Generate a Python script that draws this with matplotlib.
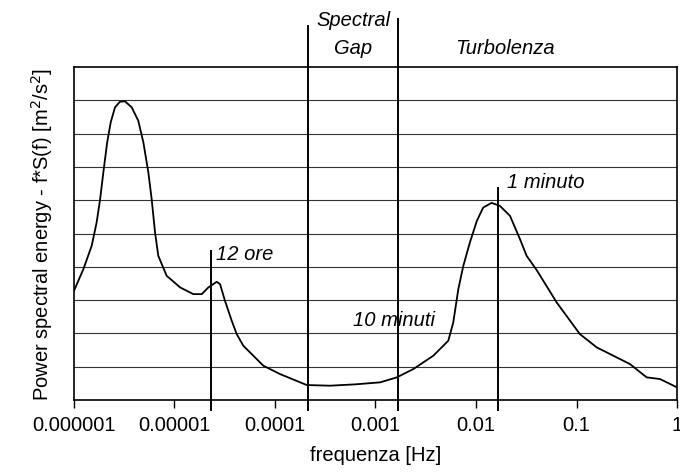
import matplotlib.pyplot as plt

plt.rcParams['font.family'] = ['Liberation Sans', 'DejaVu Sans']

# Dati (frequenza in Hz, energia in unità di griglia)
frequenza = [1.00e-6, 1.24e-6, 1.50e-6, 1.68e-6, 1.82e-6, 1.96e-6, 2.14e-6, 2.32e-6,
             2.56e-6, 2.87e-6, 3.22e-6, 3.75e-6, 4.36e-6, 4.90e-6, 5.49e-6, 5.93e-6,
             6.40e-6, 6.90e-6, 8.36e-6, 1.14e-5, 1.54e-5, 1.87e-5, 2.17e-5, 2.63e-5,
             2.84e-5, 3.18e-5, 3.71e-5, 4.16e-5, 4.84e-5, 7.66e-5, 1.12e-4, 2.07e-4,
             3.52e-4, 6.25e-4, 1.11e-3, 1.63e-3, 2.38e-3, 3.76e-3, 5.30e-3, 5.94e-3,
             6.67e-3, 7.48e-3, 8.71e-3, 1.02e-2, 1.18e-2, 1.43e-2, 1.73e-2, 2.18e-2,
             2.74e-2, 3.19e-2, 4.02e-2, 6.35e-2, 0.108, 0.159, 0.340, 0.499,
             0.677, 1.0]
energia = [3.28, 3.93, 4.63, 5.33, 6.03, 6.84, 7.74, 8.34,
           8.79, 8.96, 8.97, 8.79, 8.39, 7.74, 6.84, 6.03,
           5.04, 4.33, 3.73, 3.38, 3.18, 3.18, 3.38, 3.55,
           3.48, 2.98, 2.38, 1.98, 1.63, 1.03, 0.78, 0.45,
           0.43, 0.47, 0.53, 0.68, 0.93, 1.33, 1.78, 2.33,
           3.33, 4.03, 4.74, 5.38, 5.78, 5.92, 5.83, 5.53,
           4.83, 4.33, 3.90, 2.93, 1.98, 1.58, 1.08, 0.68,
           0.63, 0.38]

tick_pos = [1e-6, 1e-5, 1e-4, 1e-3, 1e-2, 1e-1, 1]
tick_lab = ['0.000001', '0.00001', '0.0001', '0.001', '0.01', '0.1', '1']

fig = plt.figure(figsize=(6.8, 4.77), dpi=100)
ax = fig.add_axes([0.1088, 0.1593, 0.8868, 0.6981])

ax.plot(frequenza, energia, color='black', lw=1.3, zorder=3)
ax.set_xscale('log')
ax.set_xlim(1e-6, 1)
ax.set_ylim(0, 10)

for y in range(1, 10):
    ax.axhline(y, color='#333333', lw=0.8, zorder=1)

# linee verticali (alcune escono dal riquadro)
ax.plot([2.31e-5, 2.31e-5], [-0.3, 4.47], color='black', lw=1.4, clip_on=False)
ax.plot([2.13e-4, 2.13e-4], [-0.3, 11.23], color='black', lw=1.4, clip_on=False)
ax.plot([1.67e-3, 1.67e-3], [-0.3, 11.44], color='black', lw=1.4, clip_on=False)
ax.plot([1.667e-2, 1.667e-2], [-0.3, 6.37], color='black', lw=1.4, clip_on=False)

fs = 14.5
ax.text(6.0e-4, 11.43, 'Spectral', style='italic', fontsize=fs, ha='center', va='center', clip_on=False)
ax.text(6.0e-4, 10.6, 'Gap', style='italic', fontsize=fs, ha='center', va='center', clip_on=False)
ax.text(1.95e-2, 10.6, 'Turbolenza', style='italic', fontsize=fs, ha='center', va='center', clip_on=False)
ax.text(2.03e-2, 6.55, '1 minuto', style='italic', fontsize=fs, ha='left', va='center')
ax.text(2.6e-5, 4.4, '12 ore', style='italic', fontsize=fs, ha='left', va='center')
ax.text(5.97e-4, 2.43, '10 minuti', style='italic', fontsize=fs, ha='left', va='center')

ax.set_xticks(tick_pos)
ax.set_xticklabels(tick_lab, fontsize=fs)
ax.minorticks_off()
ax.tick_params(axis='x', direction='out', length=6, width=1, pad=5)
ax.set_yticks([])
for s in ax.spines.values():
    s.set_linewidth(1.2)

ax.set_xlabel('frequenza [Hz]', fontsize=fs, labelpad=8)
ax.set_ylabel('Power spectral energy - f*S(f) [m$^2$/s$^2$]', fontsize=fs, labelpad=14)

fig.savefig('out.png', dpi=100)
